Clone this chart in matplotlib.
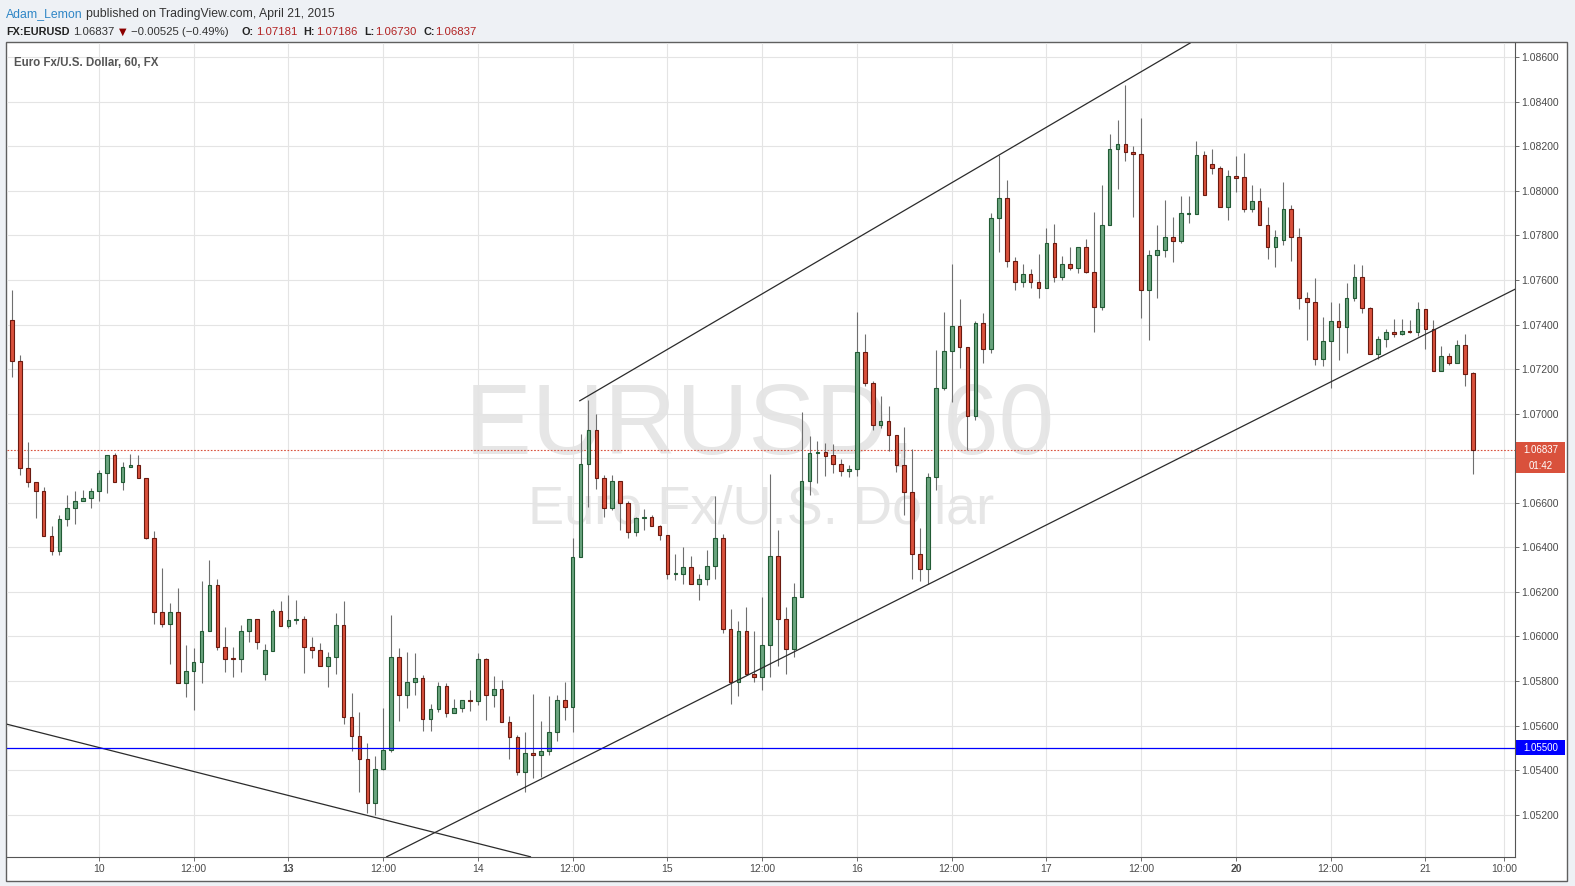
import matplotlib
matplotlib.use("Agg")
import matplotlib.pyplot as plt
from matplotlib.patches import Rectangle
from matplotlib.transforms import blended_transform_factory
import numpy as np

plt.rcParams['font.family'] = ['Liberation Sans', 'DejaVu Sans']

# EUR/USD 60 min candles (oldest first)
opens = [1.07421, 1.07237, 1.06755, 1.06692, 1.06653, 1.06450, 1.06383, 1.06527, 1.06577, 1.06610,
         1.06622, 1.06653, 1.06734, 1.06814, 1.06692, 1.06760, 1.06770, 1.06710, 1.06441, 1.06112,
         1.06055, 1.06110, 1.05790, 1.05845, 1.05884, 1.06024, 1.06229, 1.05954, 1.05902, 1.05898,
         1.06024, 1.06078, 1.05833, 1.05936, 1.06115, 1.06049, 1.06074, 1.06079, 1.05953, 1.05938,
         1.05866, 1.05907, 1.06051, 1.05637, 1.05551, 1.05450, 1.05251, 1.05406, 1.05490, 1.05907,
         1.05736, 1.05795, 1.05813, 1.05629, 1.05673, 1.05777, 1.05655, 1.05678, 1.05715, 1.05709,
         1.05898, 1.05736, 1.05763, 1.05615, 1.05549, 1.05391, 1.05477, 1.05466, 1.05486, 1.05569,
         1.05714, 1.05682, 1.06356, 1.06773, 1.06926, 1.06710, 1.06577, 1.06696, 1.06599, 1.06468,
         1.06530, 1.06536, 1.06494, 1.06455, 1.06282, 1.06282, 1.06311, 1.06234, 1.06256, 1.06315,
         1.06441, 1.06033, 1.05795, 1.06024, 1.05830, 1.05816, 1.05961, 1.06360, 1.06078, 1.05943,
         1.06177, 1.06696, 1.06823, 1.06830, 1.06814, 1.06773, 1.06742, 1.06751, 1.07276, 1.07136,
         1.06949, 1.06967, 1.06903, 1.06769, 1.06649, 1.06369, 1.06302, 1.06714, 1.07114, 1.07281,
         1.07393, 1.07299, 1.06990, 1.07405, 1.07290, 1.07879, 1.07967, 1.07684, 1.07590, 1.07626,
         1.07590, 1.07563, 1.07766, 1.07612, 1.07671, 1.07653, 1.07748, 1.07638, 1.07477, 1.07849,
         1.08188, 1.08210, 1.08174, 1.08167, 1.07553, 1.07712, 1.07734, 1.07791, 1.07773, 1.07897,
         1.07897, 1.08161, 1.08120, 1.08102, 1.07926, 1.08066, 1.08061, 1.07917, 1.07953, 1.07849,
         1.07749, 1.07781, 1.07918, 1.07792, 1.07518, 1.07500, 1.07245, 1.07326, 1.07414, 1.07389,
         1.07518, 1.07612, 1.07473, 1.07267, 1.07335, 1.07366, 1.07357, 1.07371, 1.07366, 1.07470,
         1.07380, 1.07191, 1.07258, 1.07227, 1.07308, 1.07181]
highs = [1.07555, 1.07264, 1.06874, 1.06693, 1.06673, 1.06497, 1.06546, 1.06637, 1.06655, 1.06659,
         1.06667, 1.06747, 1.06814, 1.06823, 1.06783, 1.06820, 1.06815, 1.06710, 1.06474, 1.06307,
         1.06150, 1.06219, 1.05962, 1.05949, 1.06249, 1.06343, 1.06258, 1.06043, 1.05953, 1.06052,
         1.06079, 1.06079, 1.05965, 1.06124, 1.06161, 1.06188, 1.06165, 1.06093, 1.05998, 1.05970,
         1.05931, 1.06106, 1.06161, 1.05745, 1.05662, 1.05520, 1.05465, 1.05679, 1.06097, 1.05947,
         1.05929, 1.05926, 1.05827, 1.05696, 1.05796, 1.05792, 1.05720, 1.05714, 1.05760, 1.05926,
         1.05902, 1.05822, 1.05804, 1.05643, 1.05559, 1.05570, 1.05742, 1.05620, 1.05733, 1.05739,
         1.05796, 1.06443, 1.06910, 1.07060, 1.07000, 1.06725, 1.06725, 1.06696, 1.06610, 1.06536,
         1.06573, 1.06546, 1.06500, 1.06455, 1.06371, 1.06402, 1.06362, 1.06280, 1.06389, 1.06632,
         1.06459, 1.06124, 1.06070, 1.06134, 1.06025, 1.06179, 1.06731, 1.06479, 1.06134, 1.06240,
         1.07009, 1.06898, 1.06877, 1.06868, 1.06865, 1.06796, 1.06769, 1.07456, 1.07359, 1.07147,
         1.07078, 1.07034, 1.06903, 1.06940, 1.06841, 1.06488, 1.06735, 1.07285, 1.07456, 1.07672,
         1.07515, 1.07299, 1.07414, 1.07451, 1.07900, 1.08161, 1.08049, 1.07703, 1.07672, 1.07650,
         1.07718, 1.07835, 1.07851, 1.07709, 1.07749, 1.07748, 1.07785, 1.07905, 1.08025, 1.08255,
         1.08320, 1.08475, 1.08201, 1.08329, 1.07734, 1.07849, 1.07959, 1.07882, 1.07977, 1.07977,
         1.08222, 1.08180, 1.08189, 1.08112, 1.08094, 1.08158, 1.08171, 1.08025, 1.08013, 1.07927,
         1.07824, 1.08040, 1.07937, 1.07833, 1.07545, 1.07609, 1.07433, 1.07501, 1.07497, 1.07587,
         1.07672, 1.07668, 1.07477, 1.07350, 1.07380, 1.07425, 1.07425, 1.07421, 1.07503, 1.07470,
         1.07421, 1.07303, 1.07272, 1.07330, 1.07357, 1.07186]
lows = [1.07166, 1.06725, 1.06672, 1.06530, 1.06450, 1.06366, 1.06366, 1.06494, 1.06507, 1.06606,
        1.06577, 1.06606, 1.06644, 1.06692, 1.06656, 1.06760, 1.06710, 1.06437, 1.06058, 1.06042,
        1.05878, 1.05790, 1.05730, 1.05670, 1.05793, 1.06024, 1.05940, 1.05842, 1.05819, 1.05842,
        1.05973, 1.05944, 1.05804, 1.05936, 1.06049, 1.06037, 1.06058, 1.05837, 1.05905, 1.05866,
        1.05771, 1.05833, 1.05605, 1.05484, 1.05301, 1.05206, 1.05198, 1.05401, 1.05481, 1.05622,
        1.05678, 1.05735, 1.05577, 1.05577, 1.05660, 1.05637, 1.05655, 1.05660, 1.05665, 1.05693,
        1.05626, 1.05685, 1.05615, 1.05452, 1.05376, 1.05303, 1.05364, 1.05371, 1.05466, 1.05529,
        1.05625, 1.05569, 1.06356, 1.06579, 1.06660, 1.06536, 1.06566, 1.06476, 1.06441, 1.06453,
        1.06476, 1.06494, 1.06431, 1.06259, 1.06253, 1.06237, 1.06234, 1.06162, 1.06232, 1.06259,
        1.06015, 1.05698, 1.05732, 1.05830, 1.05795, 1.05760, 1.05816, 1.05869, 1.05830, 1.05909,
        1.06177, 1.06635, 1.06690, 1.06722, 1.06735, 1.06722, 1.06717, 1.06722, 1.07126, 1.06926,
        1.06935, 1.06831, 1.06740, 1.06543, 1.06256, 1.06250, 1.06235, 1.06658, 1.07108, 1.07053,
        1.07207, 1.06836, 1.06972, 1.07229, 1.07274, 1.07728, 1.07657, 1.07555, 1.07570, 1.07564,
        1.07520, 1.07563, 1.07593, 1.07602, 1.07647, 1.07630, 1.07633, 1.07366, 1.07464, 1.07849,
        1.08007, 1.08136, 1.07884, 1.07431, 1.07332, 1.07520, 1.07705, 1.07683, 1.07768, 1.07855,
        1.07897, 1.07983, 1.08078, 1.07926, 1.07870, 1.07997, 1.07906, 1.07906, 1.07849, 1.07695,
        1.07659, 1.07758, 1.07686, 1.07469, 1.07330, 1.07220, 1.07216, 1.07114, 1.07240, 1.07272,
        1.07504, 1.07450, 1.07267, 1.07245, 1.07301, 1.07344, 1.07353, 1.07362, 1.07347, 1.07292,
        1.07191, 1.07191, 1.07220, 1.07227, 1.07126, 1.06730]
closes = [1.07237, 1.06755, 1.06692, 1.06653, 1.06450, 1.06383, 1.06527, 1.06577, 1.06610, 1.06622,
          1.06655, 1.06734, 1.06814, 1.06692, 1.06760, 1.06769, 1.06710, 1.06441, 1.06112, 1.06055,
          1.06110, 1.05790, 1.05845, 1.05884, 1.06024, 1.06229, 1.05954, 1.05900, 1.05898, 1.06024,
          1.06078, 1.05977, 1.05940, 1.06115, 1.06049, 1.06075, 1.06079, 1.05952, 1.05938, 1.05866,
          1.05907, 1.06051, 1.05637, 1.05551, 1.05450, 1.05251, 1.05406, 1.05490, 1.05907, 1.05736,
          1.05795, 1.05813, 1.05629, 1.05673, 1.05777, 1.05655, 1.05678, 1.05714, 1.05709, 1.05898,
          1.05736, 1.05763, 1.05615, 1.05549, 1.05391, 1.05477, 1.05466, 1.05486, 1.05569, 1.05714,
          1.05682, 1.06356, 1.06773, 1.06926, 1.06710, 1.06577, 1.06696, 1.06599, 1.06468, 1.06532,
          1.06536, 1.06494, 1.06455, 1.06282, 1.06285, 1.06311, 1.06234, 1.06256, 1.06315, 1.06441,
          1.06033, 1.05795, 1.06024, 1.05830, 1.05816, 1.05961, 1.06360, 1.06078, 1.05943, 1.06177,
          1.06696, 1.06823, 1.06830, 1.06812, 1.06773, 1.06742, 1.06751, 1.07276, 1.07136, 1.06949,
          1.06967, 1.06903, 1.06769, 1.06649, 1.06369, 1.06302, 1.06714, 1.07114, 1.07281, 1.07393,
          1.07299, 1.06990, 1.07405, 1.07290, 1.07879, 1.07967, 1.07684, 1.07590, 1.07626, 1.07590,
          1.07563, 1.07766, 1.07612, 1.07671, 1.07653, 1.07748, 1.07638, 1.07477, 1.07849, 1.08188,
          1.08210, 1.08174, 1.08167, 1.07553, 1.07712, 1.07734, 1.07791, 1.07773, 1.07899, 1.07900,
          1.08161, 1.07983, 1.08102, 1.07926, 1.08066, 1.08060, 1.07917, 1.07953, 1.07849, 1.07748,
          1.07792, 1.07918, 1.07792, 1.07518, 1.07500, 1.07245, 1.07326, 1.07414, 1.07389, 1.07518,
          1.07612, 1.07473, 1.07267, 1.07335, 1.07366, 1.07357, 1.07371, 1.07366, 1.07470, 1.07380,
          1.07191, 1.07258, 1.07227, 1.07308, 1.07177, 1.06837]

# time axis (bar index -> label)
time_ticks = [11, 23, 35, 47, 59, 71, 83, 95, 107, 119, 131, 143, 155, 167, 179, 189]
time_labels = ['10', '12:00', '13', '12:00', '14', '12:00', '15', '12:00', '16', '12:00',
               '17', '12:00', '20', '12:00', '21', '10:00']
price_ticks = [1.052, 1.054, 1.056, 1.058, 1.060, 1.062, 1.064, 1.066, 1.068,
               1.070, 1.072, 1.074, 1.076, 1.078, 1.080, 1.082, 1.084, 1.086]

# drawn lines: (bar indices, prices)
channel_top = ([71.9, 149.2], [1.07058, 1.08664])
channel_bottom = ([47.45, 190.3], [1.05011, 1.07558])
falling_line = ([-0.63, 65.65], [1.05606, 1.05011])
support = 1.05500
last_price = 1.06837

W, H = 1575, 886
fig = plt.figure(figsize=(W / 100, H / 100), dpi=100, facecolor='#eef1f5')


def fbox(x0, y0, x1, y1):
    return [x0 / W, 1 - y1 / H, (x1 - x0) / W, (y1 - y0) / H]


frame = Rectangle((6 / W, 1 - 881 / H), 1561 / W, 839 / H, transform=fig.transFigure,
                  facecolor='white', edgecolor='#5f5f5f', lw=1.0, zorder=-2)
fig.patches.append(frame)

# watermark
fig.text(760 / W, 1 - 454 / H, 'EURUSD, 60', fontsize=72, color='#e6e6e6',
         ha='center', va='baseline', zorder=-1)
fig.text(761 / W, 1 - 524 / H, 'Euro Fx/U.S. Dollar', fontsize=39, color='#e6e6e6',
         ha='center', va='baseline', zorder=-1)

ax = fig.add_axes(fbox(6.5, 43, 1514.7, 857))
ax.set_facecolor('none')
ax.set_xlim(-0.70, 190.3)
ax.set_ylim(1.05010, 1.08664)

x = np.arange(len(opens))
o = np.array(opens)
c = np.array(closes)
up = c >= o
body_lo = np.minimum(o, c)
body_h = np.maximum(np.abs(c - o), 0.00002)

ax.vlines(x, lows, highs, color='#6f6f6f', lw=0.8, zorder=2)
ax.bar(x[up], body_h[up], bottom=body_lo[up], width=0.46, color='#6aa57f',
       edgecolor='#225b35', linewidth=0.8, zorder=3)
ax.bar(x[~up], body_h[~up], bottom=body_lo[~up], width=0.46, color='#d9513c',
       edgecolor='#6b1a10', linewidth=0.8, zorder=3)

for xs, ys in (channel_top, channel_bottom, falling_line):
    ax.plot(xs, ys, color='#2b2b2b', lw=0.9, zorder=4)

ax.axhline(support, color='#0000ff', lw=0.9, zorder=4)
ax.axhline(last_price, color='#d9513c', lw=0.8, ls=(0, (1.5, 1.5)), zorder=1.5)

ax.set_xticks(time_ticks)
ax.set_xticklabels(time_labels)
for lbl in ax.get_xticklabels():
    if lbl.get_text() in ('13', '20'):
        lbl.set_fontweight('bold')
ax.yaxis.tick_right()
ax.set_yticks(price_ticks)
# the 1.06800 label sits under the last-price tag, so it is left blank
ax.set_yticklabels(['' if abs(p - 1.068) < 1e-9 else f'{p:.5f}' for p in price_ticks])
ax.tick_params(axis='both', direction='out', length=3, width=0.6, color='#555555',
               labelsize=7.5, labelcolor='#4a4a4a', pad=2)
ax.grid(color='#e4e4e4', lw=0.8)
ax.set_axisbelow(True)
for s in ('left', 'top'):
    ax.spines[s].set_visible(False)
for s in ('right', 'bottom'):
    ax.spines[s].set_color('#555555')
    ax.spines[s].set_linewidth(0.8)

# price tags on the right axis
blend = blended_transform_factory(fig.transFigure, ax.transData)
ppx = (1.08664 - 1.05010) / 814.0


def price_tag(price, text, color, shift_px=0):
    yc = price - shift_px * ppx
    ax.add_patch(Rectangle((1516 / W, yc - 7.6 * ppx), 49 / W, 15.2 * ppx, transform=blend,
                           facecolor=color, edgecolor='none', clip_on=False, zorder=6))
    ax.text(1540.5 / W, yc, text, transform=blend, color='white', fontsize=7.0,
            ha='center', va='center', clip_on=False, zorder=7)


price_tag(last_price, '1.06837', '#d9513c')
price_tag(last_price, '01:42', '#d9513c', shift_px=15.8)
price_tag(support, '1.05500', '#0000ff')


# header
def ftxt(px, py, s, **kw):
    fig.text(px / W, 1 - py / H, s, va='baseline', **kw)


ftxt(6, 16.7, 'Adam_Lemon', fontsize=8.8, color='#2f86c6')
ftxt(86, 16.7, 'published on TradingView.com, April 21, 2015', fontsize=8.8, color='#333333')
ftxt(6, 34.7, 'FX:EURUSD', fontsize=7.8, color='#222222', fontweight='bold')
ftxt(73, 34.7, '1.06837', fontsize=8.2, color='#333333')
ftxt(119, 34.7, '\u25bc', fontsize=7, color='#8b0000', family=['DejaVu Sans'])
ftxt(131, 34.7, '\u22120.00525 (\u22120.49%)', fontsize=8.2, color='#333333')
for lx, lab, vx, val in ((241, 'O:', 256, '1.07181'), (303, 'H:', 316, '1.07186'),
                         (364, 'L:', 375, '1.06730'), (423, 'C:', 435, '1.06837')):
    ftxt(lx, 34.7, lab, fontsize=7.8, color='#222222', fontweight='bold')
    ftxt(vx, 34.7, val, fontsize=8.2, color='#b22222')
ftxt(14, 65.5, 'Euro Fx/U.S. Dollar, 60, FX', fontsize=8.3, color='#555555', fontweight='bold')

fig.savefig('out.png', dpi=100, facecolor=fig.get_facecolor())
